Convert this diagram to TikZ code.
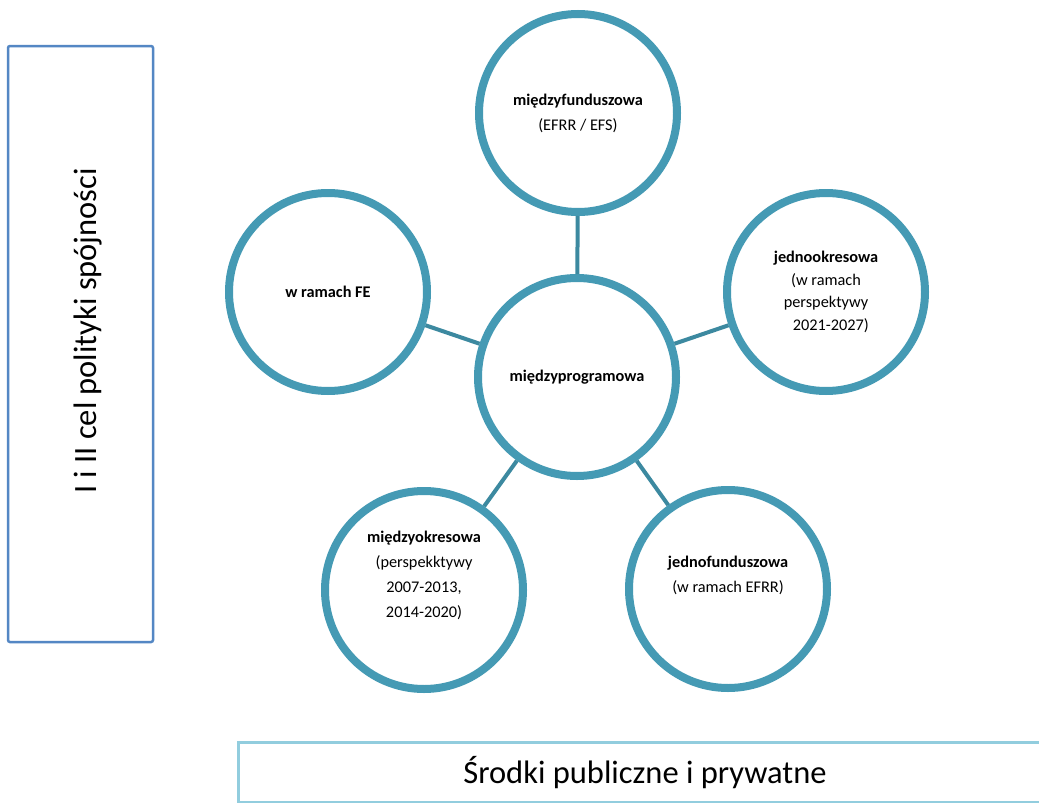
\documentclass[tikz,border=0pt]{standalone}
\usepackage{fontspec}
\setmainfont{Carlito}
\usetikzlibrary{shadows}
\definecolor{ring}{RGB}{69,154,180}
\definecolor{conn}{RGB}{60,137,160}
\definecolor{boxblue}{RGB}{84,135,196}
\definecolor{lightbox}{RGB}{146,205,222}
\definecolor{lighterbox}{RGB}{200,232,240}
\begin{document}
\begin{tikzpicture}[x=1pt,y=-1pt,
  bubble/.style={circle, draw=ring, line width=8pt, fill=white, minimum size=198pt,
    inner sep=0pt, align=center, font=\fontsize{16.3}{25}\selectfont,
    drop shadow={opacity=0.2, shadow xshift=1.5pt, shadow yshift=-3pt}},
  link/.style={draw=conn, line width=4pt},
  bigtext/.style={font=\fontsize{32.5}{38}\selectfont, inner sep=0pt}]
\useasboundingbox (0,0) rectangle (1039,803);
\fill[white] (0,0) rectangle (1039,803);

% left box
\node[draw=boxblue, line width=2.5pt, rounded corners=2pt, minimum width=145pt,
  minimum height=596pt, inner sep=0pt] (lb) at (80.5,344) {};
\node[bigtext, rotate=90] (lt) at (88,331) {I i II cel polityki spójności};

% bottom box
\node[draw=lightbox, line width=3pt, minimum width=830pt, minimum height=60pt,
  inner sep=0pt, anchor=north west] (bb) at (236.5,741) {};
\draw[lighterbox, line width=2pt] (bb.south west) -- (bb.south east);
\node[bigtext] (bt) at (645,773) {Środki publiczne i prywatne};

% circles
\node[bubble] (c) at (577,377) {\textbf{międzyprogramowa}};
\node[bubble] (t) at (578,113) {\textbf{międzyfunduszowa}\\(EFRR / EFS)};
\node[bubble] (l) at (328,292) {\textbf{w ramach FE}};
\node[bubble, font=\fontsize{16.3}{22.5}\selectfont] (r) at (826,292)
  {\textbf{jednookresowa}\\(w ramach\\perspektywy\\\hspace{0.6em}2021-2027)};
\node[bubble] (bl) at (424,590)
  {\textbf{międzyokresowa}\\(perspekktywy\\2007-2013,\\2014-2020)\\[6pt]};
\node[bubble] (br) at (728,589) {\textbf{jednofunduszowa}\\(w ramach EFRR)\\[4pt]};

% connectors
\draw[link] (c) -- (t);
\draw[link] (c) -- (l);
\draw[link] (c) -- (r);
\draw[link] (c) -- (bl);
\draw[link] (c) -- (br);
\end{tikzpicture}
\end{document}
